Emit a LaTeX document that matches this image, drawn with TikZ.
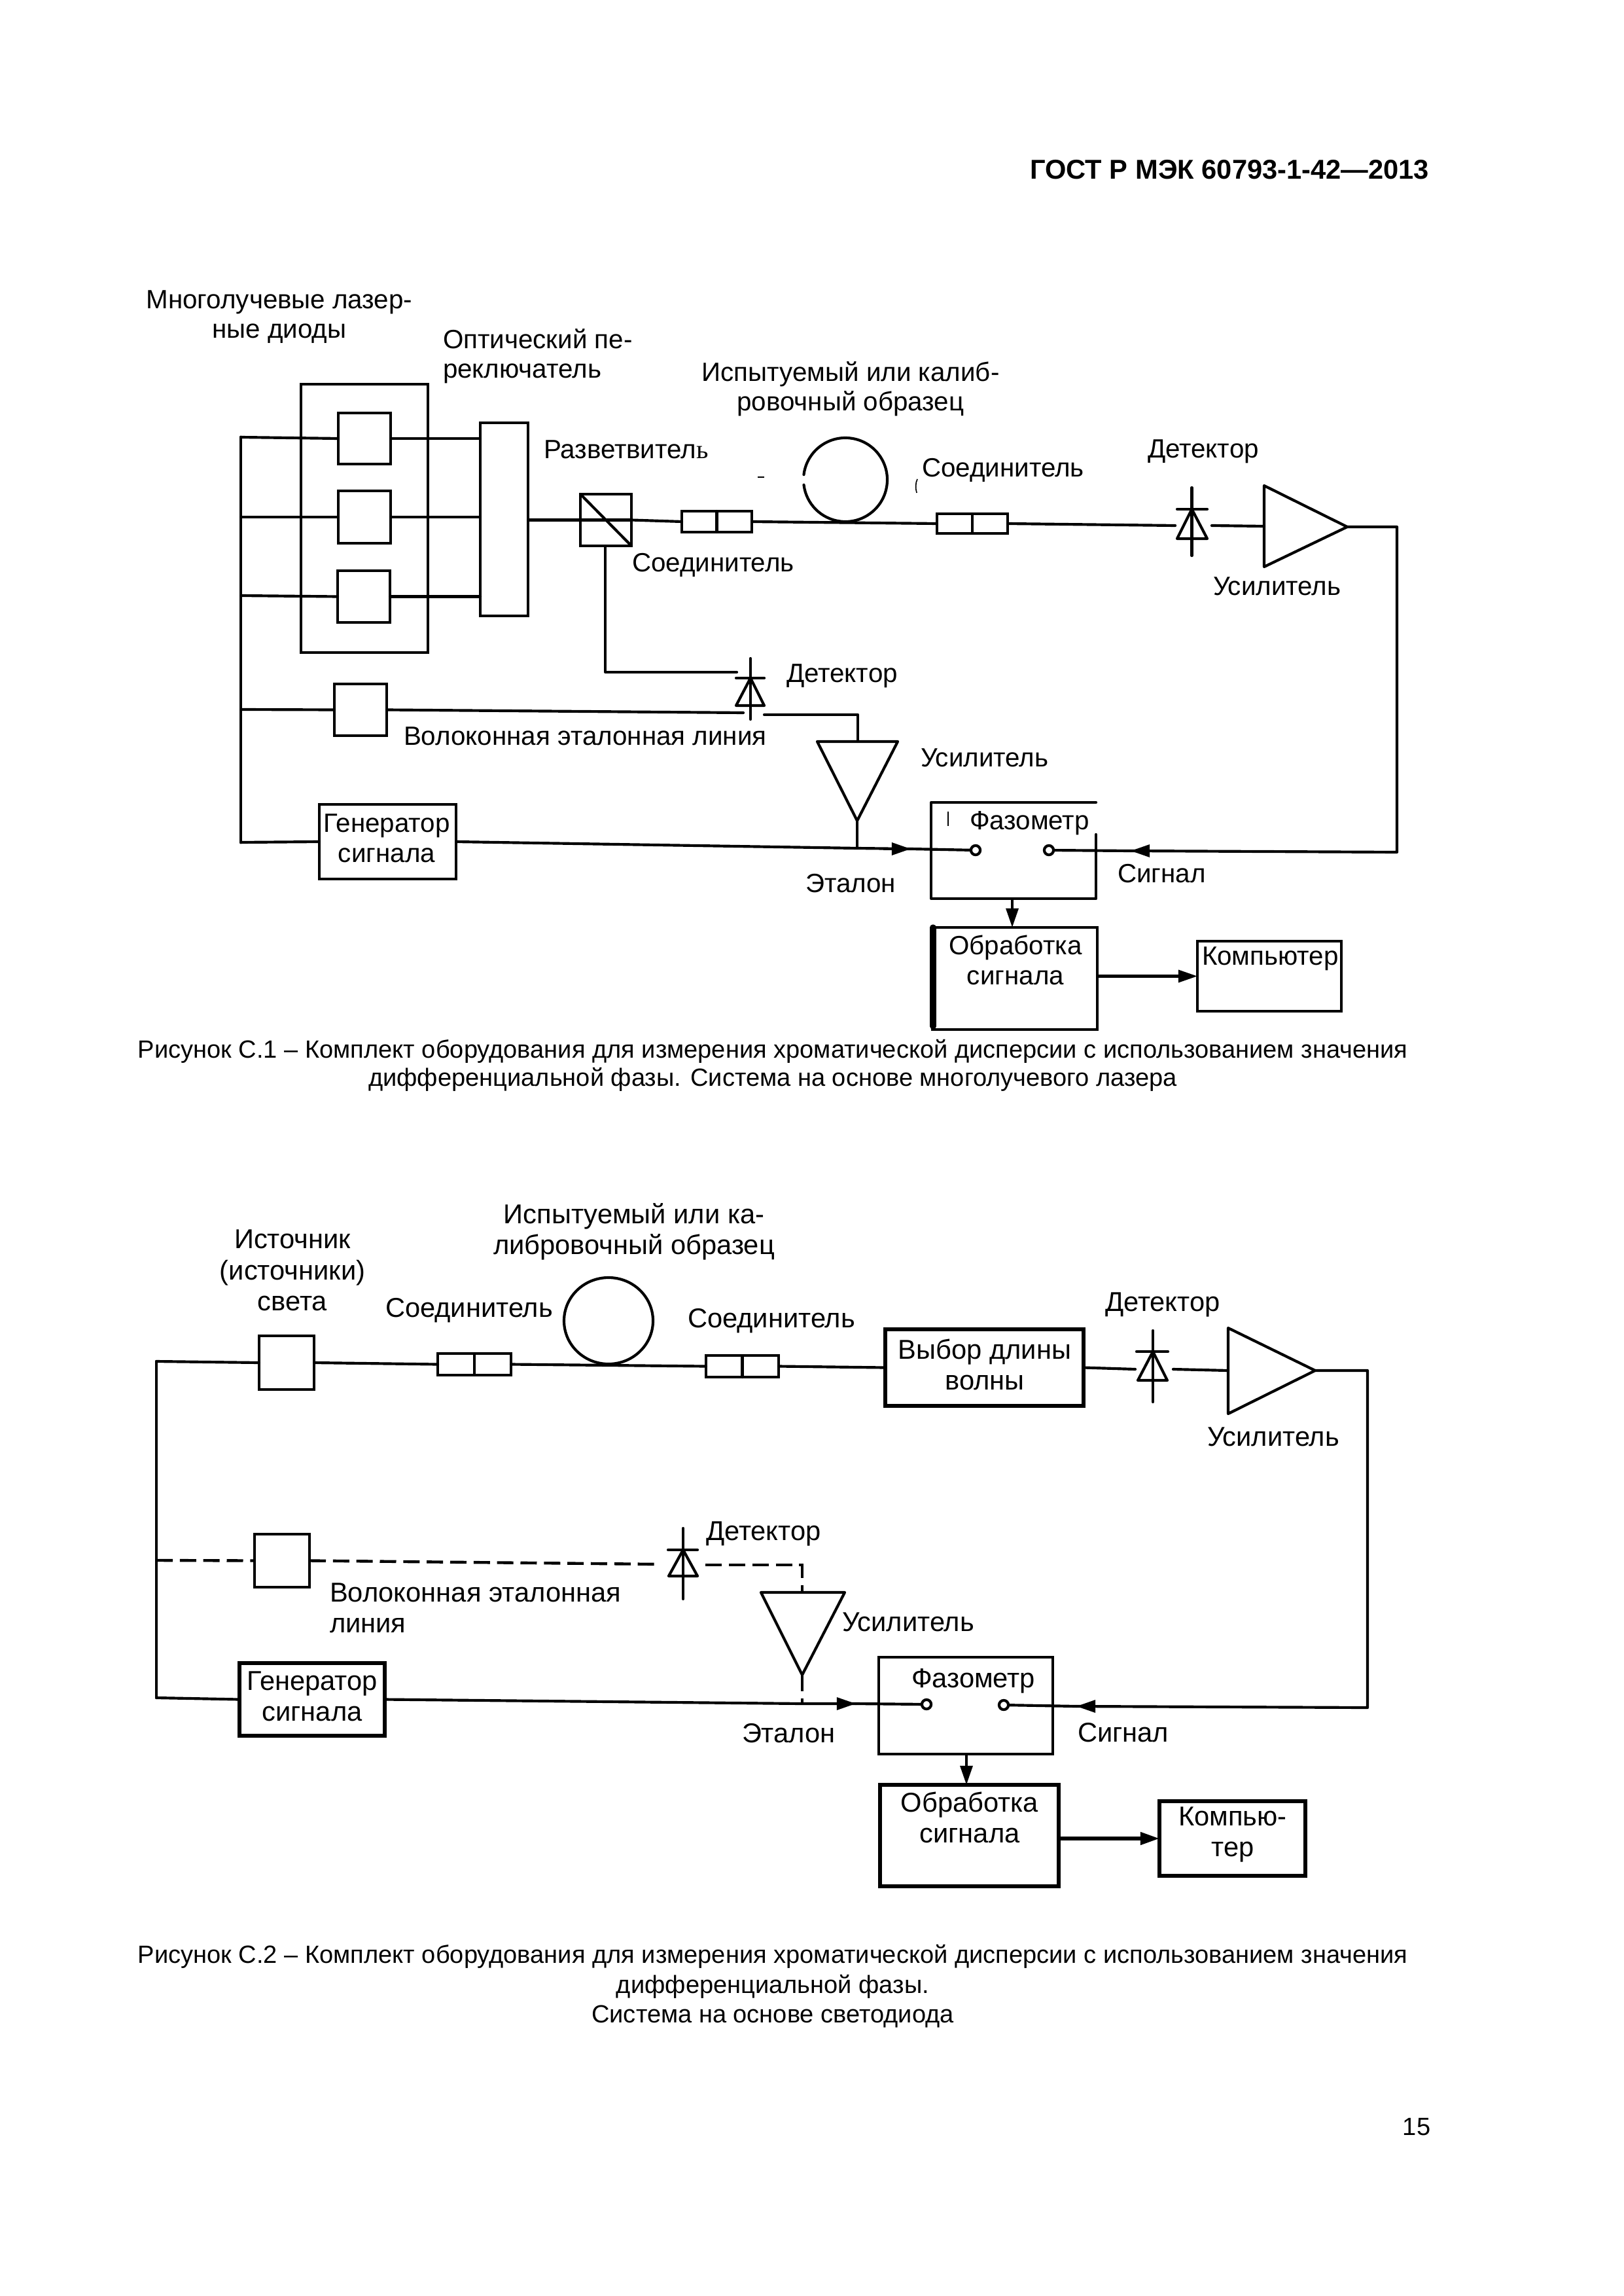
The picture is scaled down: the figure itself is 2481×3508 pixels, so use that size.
\documentclass[tikz,border=0pt]{standalone}
\usepackage{fontspec}
\setmainfont{Liberation Sans}
\newfontfamily\serfont{Liberation Serif}
\usetikzlibrary{arrows.meta,calc}
\tikzset{
  wire/.style={line width=1pt,line cap=round,line join=round},
  dashwire/.style={line width=1.05pt,dash pattern=on 6pt off 2.6pt},
  blk/.style={draw,line width=1pt,fill=white,inner sep=0pt,outer sep=0pt},
  blkb/.style={blk,line width=1.35pt},
  blank/.style={inner sep=0pt,outer sep=0pt},
  term/.style={circle,draw,fill=white,line width=1pt,minimum size=3.4pt,inner sep=0pt,outer sep=0pt},
  lbl/.style={inner sep=0pt,outer sep=0pt,font=\fontsize{9.68}{10.9}\selectfont,align=center},
  lblb/.style={inner sep=0pt,outer sep=0pt,font=\fontsize{10}{11.4}\selectfont,align=center},
  captxt/.style={inner sep=0pt,outer sep=0pt,font=\fontsize{9.13}{10.3}\selectfont,align=center},
  captxtb/.style={inner sep=0pt,outer sep=0pt,font=\fontsize{9.13}{10.9}\selectfont,align=center},
  tip/.style={-{Triangle[length=7pt,width=4.5pt]},line width=1pt},
}
\newcommand{\bx}[6][blk]{\node[#1,minimum width={(#5-#3)*0.24pt},minimum height={(#6-#4)*0.24pt}] (#2) at ({(#3+#5)/2},{(#4+#6)/2}) {};}
\begin{document}
\begin{tikzpicture}[x=0.24pt,y=-0.24pt]
\useasboundingbox (0,0) rectangle (2481,3508);
% header
\node[inner sep=0pt,anchor=east,font=\fontsize{10}{12}\selectfont\bfseries] (hdr) at (2185,259) {ГОСТ Р МЭК 60793-1-42—2013};
\node[inner sep=0pt,anchor=east,font=\fontsize{9.13}{12}\selectfont] (pg) at (2187,3250) {15};

%%%%%%%%%%% FIGURE 1
\coordinate (b1top) at (368,668);
\coordinate (b1a) at (368,790);
\coordinate (b1b) at (368,910);
\coordinate (b1c) at (368,1084);
\coordinate (b1bot) at (368,1287);
\bx{outer}{460}{587}{654}{997}
\bx{ld1}{517}{631}{597}{709}
\bx{ld2}{517}{750}{597}{830}
\bx{ld3}{516}{872}{596}{951}
\bx{sw}{734}{646}{807}{941}
\bx{spl}{887}{755}{965}{834}
\bx{c1}{1042}{781}{1149}{813}
\bx{c2}{1432}{785}{1540}{815}
\bx{dly}{511}{1045}{591}{1124}
\bx[blk,line width=1.1pt]{gen}{488}{1229}{697}{1343}
\bx[blank]{pm}{1423}{1226}{1675}{1373}
\bx[blk,line width=1.1pt]{proc}{1425}{1417}{1677}{1573}
\bx[blk,line width=1.1pt]{comp}{1830}{1438}{2050}{1545}
% buses
\draw[wire,line width=1.15pt] (b1top) -- (b1bot);
\draw[wire] (b1top) -- (ld1.west);
\draw[wire] (b1a) -- (ld2.west);
\draw[wire] (b1b) -- (ld3.west);
\draw[wire] (b1c) -- (dly.west);
\draw[wire] (b1bot) -- (gen.west);
\draw[wire] (ld1.east) -- (sw.west |- ld1.east);
\draw[wire] (ld2.east) -- (sw.west |- ld2.east);
\draw[wire] (ld3.east) -- (sw.west |- ld3.east);
\draw[wire] (sw.east |- spl.west) -- (spl.east);
\draw[wire] (spl.north west) -- (spl.south east);
\draw[wire] (spl.east) -- (c1.west);
\draw[wire] (c1.north) -- (c1.south);
\draw[wire] (c2.north) -- (c2.south);
\draw[wire] (c1.east) -- (c2.west);
\draw[wire] ([shift={(187:64)}]1292,733) arc[start angle=187,end angle=533,radius=64];
% detector 1
\node[blank,minimum width=13.4pt,minimum height=1pt] (d1) at (1824,803) {};
\draw[wire] (1821.5,745) -- (1821.5,849);
\draw[wire] (1799,778) -- (1845,778);
\draw[wire] (1821.5,778) -- (1799,823) -- (1845,823) -- cycle;
\draw[wire] (c2.east) -- (d1.west);
% amp 1
\coordinate (a1in) at (1932,804);
\coordinate (a1out) at (2059,805);
\draw[wire] (1932,742) -- (a1out) -- (1932,866) -- cycle;
\draw[wire] (d1.east) -- (a1in);
% detector 2
\coordinate (d2in) at (1126,1027);
\coordinate (d2l) at (1136,1089);
\coordinate (d2r) at (1168,1092);
\draw[wire] (1147,1006) -- (1147,1099);
\draw[wire] (1125,1036) -- (1168,1036);
\draw[wire] (1147,1036) -- (1125,1078) -- (1168,1078) -- cycle;
\draw[wire] (spl.south west -| 925,0) -- (925,1027) -- (d2in);
\draw[wire] (dly.east) -- (d2l);
% amp 2
\coordinate (a2top) at (1311,1133);
\coordinate (a2bot) at (1310,1254);
\draw[wire] (1249,1133) -- (1372,1133) -- (a2bot) -- cycle;
\draw[wire] (d2r) -- (1311,1092) -- (a2top);
\coordinate (j1) at (1310,1296);
\draw[wire] (a2bot) -- (j1);
% phasemeter
\draw[wire] (pm.north east) -- (pm.north west) -- (pm.south west) -- (pm.south east) -- (1675,1275);
\node[term] (t1) at (1491,1299) {};
\node[term] (t2) at (1603,1299) {};
\coordinate (ar1) at (1392,1297);
\coordinate (ar2) at (1728,1300);
\draw[wire] (gen.east) -- (j1) -- (ar1);
\draw[tip] (1350,1297) -- (ar1);
\draw[wire] (ar1) -- (t1);
\coordinate (s1a) at (2059,805);
\coordinate (s1b) at (2135,805);
\coordinate (s1c) at (2135,1302);
\draw[wire] (a1out) -- (s1b) -- (s1c) -- (ar2);
\draw[wire] (ar2) -- (t2);
\draw[tip] (1775,1300) -- (ar2);
% processing
\draw[wire,line width=2.2pt] (1426,1417) -- (1426,1568);
\coordinate (pmdown) at (1547,1373);
\draw[tip] (pmdown) -- (pmdown |- proc.north);
\draw[tip] (proc.east |- comp.west) -- (comp.west);
% scan specks
\draw[line width=0.4pt] (1449,1240) -- (1449,1262);
\draw[line width=0.6pt] (1158,729) -- (1168,729);
\draw[line width=0.4pt] (1402,732) .. controls (1399,738) and (1399,746) .. (1401,753);
% labels
\node[lbl] (t01) at (427,484) {Многолучевые лазер-\\ные диоды};
\node[lbl,align=left,anchor=west] (t02) at (677,544) {Оптический пе-\\реключатель};
\node[lbl] (t03) at (1300,594) {Испытуемый или калиб-\\ровочный образец};
\node[lbl,anchor=west] (t04) at (831,687) {Разветвител{\serfont ь}};
\node[lbl,anchor=west] (t05) at (966,863) {Соединитель};
\node[lbl,anchor=west] (t06) at (1409,718) {Соединитель};
\node[lbl,anchor=west] (t07) at (1754,690) {Детектор};
\node[lbl,anchor=west] (t08) at (1854,896) {Усилитель};
\node[lbl,anchor=west] (t09) at (1202,1033) {Детектор};
\node[lbl,anchor=west] (t10) at (617,1125) {Волоконная эталонная линия};
\node[lbl,anchor=west] (t11) at (1407,1158) {Усилитель};
\node[lbl,anchor=west] (t12) at (1482,1258) {Фазометр};
\node[lbl,anchor=west] (t13) at (1231,1350) {Эталон};
\node[lbl,anchor=west] (t14) at (1708,1335) {Сигнал};
\node[lbl] (t15) at (1552,1467) {Обработка\\сигнала};
\node[lbl,anchor=west] (t16) at (1837,1465) {Компьютер};
\node[lbl] (t17) at (591,1281) {Генератор\\сигнала};
\node[captxt] (cap1) at (1181,1628) {Рисунок С.1 – Комплект оборудования для измерения хроматической дисперсии с использованием значения\\дифференциальной фазы. Система на основе многолучевого лазера};

%%%%%%%%%%% FIGURE 2
\coordinate (b2top) at (239,2080);
\coordinate (b2mid) at (239,2384);
\coordinate (b2bot) at (239,2594);
\bx{src}{396}{2041}{480}{2123}
\bx{k1}{669}{2068}{781}{2101}
\bx{k2}{1079}{2071}{1190}{2104}
\bx[blkb]{wl}{1353}{2031}{1656}{2148}
\bx{dl2}{389}{2344}{473}{2425}
\bx[blkb]{gn2}{366}{2541}{588}{2652}
\bx{pm2}{1343}{2532}{1609}{2680}
\bx[blkb]{pr2}{1345}{2727}{1618}{2882}
\bx[blkb]{cp2}{1772}{2752}{1995}{2866}
\draw[wire] (b2top) -- (b2bot);
\draw[wire] (b2top) -- (src.west);
\draw[wire] (b2bot) -- (gn2.west);
\draw[wire] (src.east) -- (k1.west);
\draw[wire] (k1.north) -- (k1.south);
\draw[wire] (k2.north) -- (k2.south);
\draw[wire] (k1.east) -- (k2.west);
\draw[wire] (930,2018) ellipse [x radius=68,y radius=66];
\draw[wire] (k2.east) -- (wl.west);
% detector 3
\node[blank,minimum width=13.9pt,minimum height=1pt] (d3) at (1764,2092) {};
\draw[wire] (1762,2033) -- (1762,2142);
\draw[wire] (1737,2065) -- (1785,2065);
\draw[wire] (1762,2065) -- (1739,2109) -- (1784,2109) -- cycle;
\draw[wire] (wl.east) -- (d3.west);
% amp 3
\coordinate (a3in) at (1877,2094);
\coordinate (a3out) at (2010,2094);
\draw[wire] (1877,2029) -- (a3out) -- (1877,2160) -- cycle;
\draw[wire] (d3.east) -- (a3in);
% dashed reference
\draw[dashwire] (b2mid) -- (dl2.west);
\coordinate (d4l) at (1010,2390);
\coordinate (d4r) at (1078,2391);
\draw[dashwire] (dl2.east) -- (d4l);
\draw[wire] (1044,2335) -- (1044,2443);
\draw[wire] (1021,2368) -- (1066,2368);
\draw[wire] (1044,2368) -- (1022,2408) -- (1066,2408) -- cycle;
\coordinate (a4top) at (1226,2433);
\coordinate (a4bot) at (1226,2559);
\draw[wire] (1163,2433) -- (1291,2433) -- (a4bot) -- cycle;
\draw[dashwire] (d4r) -- (1226,2391) -- (a4top);
\coordinate (j2) at (1226,2603);
\draw[dashwire] (a4bot) -- (j2);
% phasemeter 2
\node[term] (t3) at (1416,2604) {};
\node[term] (t4) at (1534,2605) {};
\coordinate (ar3) at (1308,2603);
\coordinate (ar4) at (1645,2607);
\draw[wire] (gn2.east) -- (j2) -- (ar3);
\draw[tip] (1268,2603) -- (ar3);
\draw[wire] (ar3) -- (t3);
\coordinate (s2b) at (2090,2094);
\coordinate (s2c) at (2090,2609);
\draw[wire] (a3out) -- (s2b) -- (s2c) -- (ar4);
\draw[wire] (ar4) -- (t4);
\draw[tip] (1690,2607) -- (ar4);
\coordinate (pm2d) at (1477,2680);
\draw[tip] (pm2d) -- (pm2d |- pr2.north);
\draw[tip,line width=1.3pt] (pr2.east |- cp2.west) -- (cp2.west);
% labels
\node[lblb] (u01) at (447,1941) {Источник\\(источники)\\света};
\node[lblb] (u02) at (969,1882) {Испытуемый или ка-\\либровочный образец};
\node[lblb,anchor=west] (u03) at (589,2002) {Соединитель};
\node[lblb,anchor=west] (u04) at (1051,2018) {Соединитель};
\node[lblb,anchor=west] (u05) at (1689,1993) {Детектор};
\node[lblb] (u06) at (1505,2085) {Выбор длины\\волны};
\node[lblb,anchor=west] (u07) at (1845,2195) {Усилитель};
\node[lblb,anchor=west] (u08) at (1079,2343) {Детектор};
\node[lblb,align=left,anchor=west] (u09) at (504,2457) {Волоконная эталонная\\линия};
\node[lblb,anchor=west] (u10) at (1287,2478) {Усилитель};
\node[lblb] (u11) at (477,2592) {Генератор\\сигнала};
\node[lblb,anchor=west] (u12) at (1134,2648) {Эталон};
\node[lblb,anchor=west] (u13) at (1393,2568) {Фазометр};
\node[lblb,anchor=west] (u14) at (1647,2647) {Сигнал};
\node[lblb] (u15) at (1482,2777) {Обработка\\сигнала};
\node[lblb] (u16) at (1884,2803) {Компью-\\тер};
\node[captxtb] (cap2) at (1181,3035) {Рисунок С.2 – Комплект оборудования для измерения хроматической дисперсии с использованием значения\\дифференциальной фазы.\\Система на основе светодиода};
\end{tikzpicture}
\end{document}
